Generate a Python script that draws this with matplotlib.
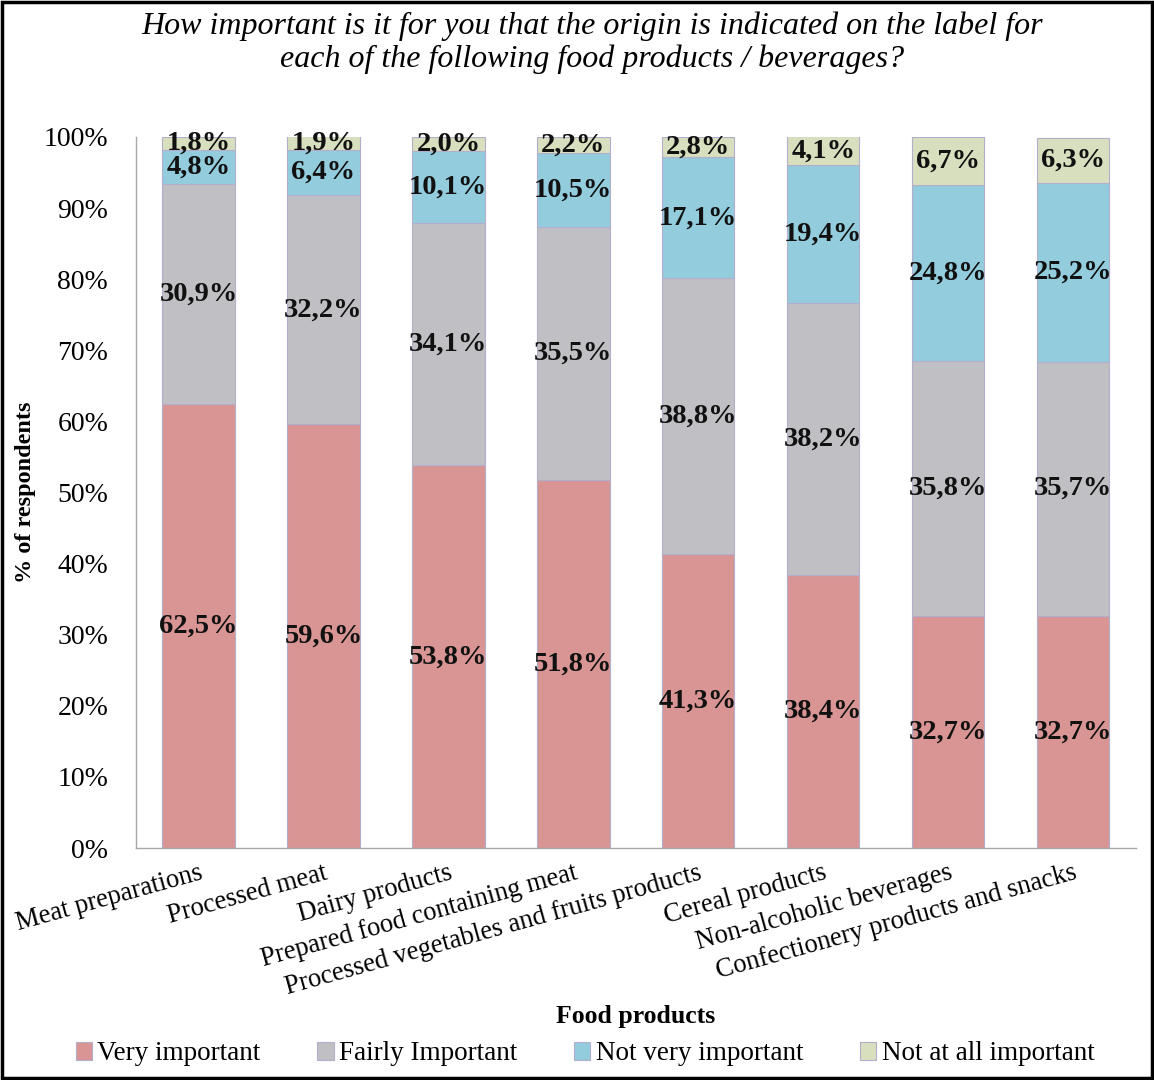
import matplotlib
matplotlib.use("Agg")
import matplotlib.pyplot as plt
from matplotlib.patches import Rectangle
import numpy as np

plt.rcParams['font.family'] = ['Liberation Serif', 'DejaVu Serif']

categories = ["Meat preparations", "Processed meat", "Dairy products",
              "Prepared food containing meat", "Processed vegetables and fruits products",
              "Cereal products", "Non-alcoholic beverages", "Confectionery products and snacks"]
very_important = [62.5, 59.6, 53.8, 51.8, 41.3, 38.4, 32.7, 32.7]
fairly_important = [30.9, 32.2, 34.1, 35.5, 38.8, 38.2, 35.8, 35.7]
not_very_important = [4.8, 6.4, 10.1, 10.5, 17.1, 19.4, 24.8, 25.2]
not_at_all_important = [1.8, 1.9, 2.0, 2.2, 2.8, 4.1, 6.7, 6.3]
series_names = ["Very important", "Fairly Important", "Not very important", "Not at all important"]
yticks = [0, 10, 20, 30, 40, 50, 60, 70, 80, 90, 100]
ytick_labels = [f"{v}%" for v in yticks]

colors = ["#D99594", "#C0BFC3", "#93CDDD", "#D7DFBF"]

fig = plt.figure(figsize=(11.54, 10.8), dpi=100)
ax = fig.add_axes([136/1154, 1-848/1080, (1135.5-136)/1154, (848-137)/1080])

x = np.arange(len(categories))
bottom = np.zeros(len(categories))
series = [very_important, fairly_important, not_very_important, not_at_all_important]
for vals, name, col in zip(series, series_names, colors):
    vals = np.array(vals)
    ax.bar(x, vals, width=0.58, bottom=bottom, color=col, edgecolor="#B3AECB",
           linewidth=0.8, label=name)
    for xi, b, v in zip(x, bottom, vals):
        ax.text(xi, b + v/2, f"{v:.1f}%".replace(".", ","), ha="center", va="center",
                fontsize=20.5, fontweight="bold", color="#111111")
    bottom += vals

ax.set_xlim(-0.5, len(categories)-0.5)
ax.set_ylim(0, 100)
ax.set_yticks(yticks)
ax.set_yticklabels(ytick_labels, fontsize=20)
ax.set_xticks(x)
ax.set_xticklabels(categories, rotation=15.5, ha="right", rotation_mode="anchor", fontsize=19.2)
ax.tick_params(axis="both", length=0)
ax.tick_params(axis="y", pad=20)
ax.tick_params(axis="x", pad=9)
for s in ["top", "right"]:
    ax.spines[s].set_visible(False)
for s in ["left", "bottom"]:
    ax.spines[s].set_color("#A8A8A8")
    ax.spines[s].set_linewidth(1.0)

ax.set_ylabel("% of respondents", fontsize=17.5, fontweight="bold")
ax.yaxis.set_label_coords(-0.1, 0.5)
fig.text(0.551, 1-1017/1080, "Food products", ha="center", va="center",
         fontsize=18.5, fontweight="bold")

fig.text(0.513, 1-43/1080,
         "How important is it for you that the origin is indicated on the label for\neach of the following food products / beverages?",
         ha="center", va="center", fontsize=23, style="italic", linespacing=1.15)

fig.legend(loc="center", bbox_to_anchor=(0.507, 1-1054/1080), ncol=4, frameon=False,
           fontsize=19.5, handlelength=0.6, handleheight=0.6, handletextpad=0.2,
           columnspacing=2.1)

fig.patches.append(Rectangle((0.002, 0.002), 0.996, 0.996, transform=fig.transFigure,
                             fill=False, edgecolor="black", linewidth=2.5))

fig.savefig("out.png", dpi=100)
